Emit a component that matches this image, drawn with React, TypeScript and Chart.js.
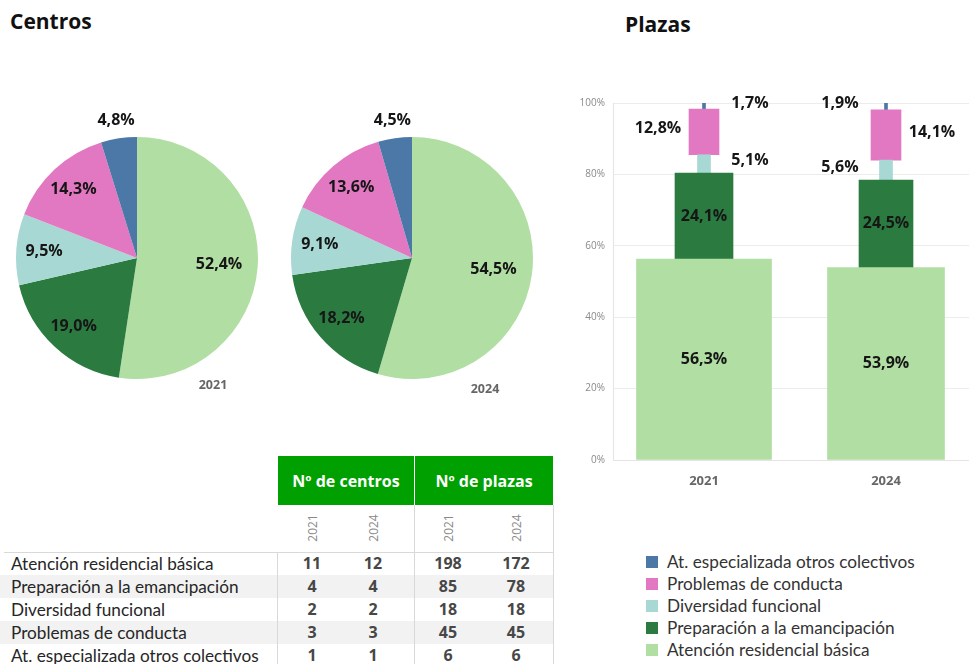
import React, { useEffect, useRef } from 'react';
import { Chart, registerables } from 'chart.js';

Chart.register(...registerables);

// ---------- data ----------
const TYPES = [
  'Atención residencial básica',
  'Preparación a la emancipación',
  'Diversidad funcional',
  'Problemas de conducta',
  'At. especializada otros colectivos',
];
const YEARS = ['2021', '2024'];

const CENTROS_PCT_2021 = [52.4, 19.0, 9.5, 14.3, 4.8];
const CENTROS_PCT_2024 = [54.5, 18.2, 9.1, 13.6, 4.5];
const PLAZAS_PCT_2021 = [56.3, 24.1, 5.1, 12.8, 1.7];
const PLAZAS_PCT_2024 = [53.9, 24.5, 5.6, 14.1, 1.9];

const CENTROS_2021 = [11, 4, 2, 3, 1];
const CENTROS_2024 = [12, 4, 2, 3, 1];
const PLAZAS_2021 = [198, 85, 18, 45, 6];
const PLAZAS_2024 = [172, 78, 18, 45, 6];

const Y_TICKS = [0, 20, 40, 60, 80, 100];

// ---------- styles ----------
const COLORS = ['#b1dea3', '#2b7b40', '#a8d8d3', '#e278c2', '#4c78a8'];
const BAR_WIDTHS = [[135, 117], [58, 54], [13, 13], [30, 30], [3, 3]];
const BAR_LABEL_SIDE = [['c', 'c'], ['c', 'c'], ['r', 'l'], ['l', 'r'], ['r', 'l']];
const LABEL_FONT = 'bold 16px "Open Sans"';
const FONT = '"Open Sans", sans-serif';
const TEXT_FONT = 'Lato, sans-serif';

const fmt = (v: number) => v.toFixed(1).replace('.', ',') + '%';

const pieLabels = {
  id: 'pieLabels',
  afterDatasetsDraw(chart: any) {
    const ctx = chart.ctx;
    const meta = chart.getDatasetMeta(0);
    const data = chart.data.datasets[0].data as number[];
    ctx.save();
    ctx.font = LABEL_FONT;
    ctx.fillStyle = '#161616';
    ctx.textAlign = 'center';
    ctx.textBaseline = 'middle';
    meta.data.forEach((arc: any, i: number) => {
      const p = arc.getProps(['x', 'y', 'startAngle', 'endAngle', 'outerRadius'], true);
      const mid = (p.startAngle + p.endAngle) / 2;
      const v = data[i];
      const f = v < 6 ? 1.15 : v > 50 ? 0.68 : 0.77;
      const r = p.outerRadius * f;
      ctx.fillText(fmt(v), p.x + Math.cos(mid) * r, p.y + Math.sin(mid) * r);
    });
    ctx.restore();
  },
};

const barLabels = {
  id: 'barLabels',
  afterDatasetsDraw(chart: any) {
    const ctx = chart.ctx;
    ctx.save();
    ctx.font = LABEL_FONT;
    ctx.fillStyle = '#161616';
    ctx.textAlign = 'center';
    ctx.textBaseline = 'middle';
    chart.data.datasets.forEach((ds: any, di: number) => {
      const meta = chart.getDatasetMeta(di);
      meta.data.forEach((bar: any, i: number) => {
        const v = ds.data[i];
        if (v == null) return;
        const p = bar.getProps(['x', 'y', 'base'], true);
        const side = ds.labelSide;
        const cy = (p.y + p.base) / 2 - (side === 'c' ? 0 : 3);
        const cx = side === 'c' ? p.x : side === 'r' ? p.x + 46 : p.x - 46;
        ctx.fillText(fmt(v), cx, cy);
      });
    });
    ctx.restore();
  },
};

function ChartCanvas({ make, width, height, style }: any) {
  const ref = useRef<HTMLCanvasElement | null>(null);
  useEffect(() => {
    if (!ref.current) return;
    const chart = new Chart(ref.current, make());
    return () => chart.destroy();
  }, []);
  return (
    <canvas
      ref={ref}
      width={width}
      height={height}
      style={{ position: 'absolute', width, height, ...style }}
    />
  );
}

const pieConfig = (data: number[], padding: any) => () => ({
  type: 'pie',
  data: {
    labels: TYPES,
    datasets: [{ data, backgroundColor: COLORS, borderWidth: 0 }],
  },
  options: {
    animation: false,
    responsive: false,
    maintainAspectRatio: false,
    layout: { padding },
    plugins: { legend: { display: false }, tooltip: { enabled: false } },
  },
  plugins: [pieLabels],
});

const barConfig = () => {
  const pcts = [PLAZAS_PCT_2021, PLAZAS_PCT_2024];
  const datasets: any[] = [];
  TYPES.forEach((t, s) => {
    YEARS.forEach((yr, y) => {
      datasets.push({
        label: t + ' ' + yr,
        data: YEARS.map((_, i) => (i === y ? pcts[y][s] : null)),
        backgroundColor: COLORS[s],
        barThickness: BAR_WIDTHS[s][y],
        stack: 'all',
        labelSide: BAR_LABEL_SIDE[s][y],
      });
    });
  });
  return {
    type: 'bar',
    data: { labels: YEARS, datasets },
    options: {
      animation: false,
      responsive: false,
      maintainAspectRatio: false,
      layout: { padding: { left: 8, top: 23, right: 3, bottom: 10 } },
      plugins: { legend: { display: false }, tooltip: { enabled: false } },
      scales: {
        x: {
          stacked: true,
          grid: { display: false },
          border: { color: '#e4e4e4' },
          ticks: { color: '#666666', font: { family: 'Open Sans', size: 13, weight: 'bold' }, padding: 5 },
          afterFit: (s: any) => { s.height = 30; },
        },
        y: {
          stacked: true,
          min: 0,
          max: 100,
          grid: { color: '#ececec', drawTicks: false },
          border: { color: '#e4e4e4' },
          ticks: {
            padding: 8,
            color: '#8a8a8a',
            font: { family: 'Open Sans', size: 10 },
            callback: (v: any) => v + '%',
          },
          afterBuildTicks: (s: any) => { s.ticks = Y_TICKS.map((v) => ({ value: v })); },
          afterFit: (s: any) => { s.width = 45; },
        },
      },
    },
    plugins: [barLabels],
  };
};

const COL_X = [312, 373, 448, 516];
const ROW_TOP = 552;
const ROW_H = 23;

export default function App() {
  const tableVals = TYPES.map((_, i) => [CENTROS_2021[i], CENTROS_2024[i], PLAZAS_2021[i], PLAZAS_2024[i]]);
  const abs = (s: any) => ({ position: 'absolute', ...s });
  return (
    <div style={{ position: 'fixed', left: 0, top: 0, width: 969, height: 664, overflow: 'hidden', background: '#fff' }}>
      <div style={abs({ left: 10, top: 11, fontFamily: FONT, fontWeight: 700, fontSize: 21, lineHeight: '21px', color: '#111' })}>Centros</div>
      <div style={abs({ left: 625, top: 14, fontFamily: FONT, fontWeight: 700, fontSize: 21, lineHeight: '21px', color: '#111' })}>Plazas</div>

      <ChartCanvas make={pieConfig(CENTROS_PCT_2021, { left: 16, top: 37, right: 22, bottom: 21 })} width={280} height={300} style={{ left: 0, top: 100 }} />
      <ChartCanvas make={pieConfig(CENTROS_PCT_2024, { left: 10, top: 37, right: 16, bottom: 21 })} width={270} height={300} style={{ left: 280, top: 100 }} />
      <div style={abs({ left: 213, top: 384, transform: 'translate(-50%,-50%)', fontFamily: FONT, fontWeight: 700, fontSize: 12.5, color: '#666' })}>{YEARS[0]}</div>
      <div style={abs({ left: 485, top: 388, transform: 'translate(-50%,-50%)', fontFamily: FONT, fontWeight: 700, fontSize: 12.5, color: '#666' })}>{YEARS[1]}</div>

      <ChartCanvas make={barConfig} width={420} height={420} style={{ left: 560, top: 80 }} />

      {/* table */}
      <div style={abs({ left: 278, top: 456, width: 275, height: 49, background: '#00a000' })} />
      <div style={abs({ left: 414, top: 456, width: 1, height: 49, background: '#fff' })} />
      <div style={abs({ left: 278, top: 456, width: 136, height: 49, display: 'flex', alignItems: 'center', justifyContent: 'center', fontFamily: FONT, fontWeight: 700, fontSize: 16, color: '#fff' })}>Nº de centros</div>
      <div style={abs({ left: 415, top: 456, width: 138, height: 49, display: 'flex', alignItems: 'center', justifyContent: 'center', fontFamily: FONT, fontWeight: 700, fontSize: 16, color: '#fff' })}>Nº de plazas</div>
      {COL_X.map((x, c) => (
        <div key={'yh' + c} style={abs({ left: x, top: 528, transform: 'translate(-50%,-50%) rotate(-90deg)', fontFamily: FONT, fontSize: 12, color: '#8a8a8a' })}>{YEARS[c % 2]}</div>
      ))}
      {TYPES.map((t, r) => (
        <div key={'bg' + r} style={abs({ left: 0, top: ROW_TOP + r * ROW_H, width: 553, height: ROW_H, background: r % 2 === 1 ? '#f2f2f2' : 'transparent' })} />
      ))}
      <div style={abs({ left: 4, top: ROW_TOP, width: 549, height: 1, background: '#d9d9d9' })} />
      <div style={abs({ left: 277, top: ROW_TOP, width: 1, height: 120, background: '#d9d9d9' })} />
      <div style={abs({ left: 414, top: 505, width: 1, height: 170, background: '#d9d9d9' })} />
      <div style={abs({ left: 553, top: 505, width: 1, height: 170, background: '#d9d9d9' })} />
      {TYPES.map((t, r) => (
        <React.Fragment key={'row' + r}>
          <div style={abs({ left: 11, top: ROW_TOP + r * ROW_H, height: ROW_H, lineHeight: ROW_H + 'px', fontFamily: TEXT_FONT, fontSize: 17.2, color: '#262626', whiteSpace: 'nowrap' })}>{t}</div>
          {tableVals[r].map((v, c) => (
            <div key={c} style={abs({ left: COL_X[c] - 30, width: 60, textAlign: 'center', top: ROW_TOP + r * ROW_H, height: ROW_H, lineHeight: ROW_H + 'px', fontFamily: FONT, fontWeight: 700, fontSize: 16, color: '#474747' })}>{v}</div>
          ))}
        </React.Fragment>
      ))}

      {/* legend */}
      {TYPES.map((_, k) => {
        const i = TYPES.length - 1 - k;
        const cy = 562 + k * 22;
        return (
          <React.Fragment key={'lg' + k}>
            <div style={abs({ left: 646, top: cy - 6, width: 12, height: 12, background: COLORS[i] })} />
            <div style={abs({ left: 667, top: cy - 11, height: 22, lineHeight: '22px', fontFamily: TEXT_FONT, fontSize: 17.2, color: '#333', whiteSpace: 'nowrap' })}>{TYPES[i]}</div>
          </React.Fragment>
        );
      })}
    </div>
  );
}
